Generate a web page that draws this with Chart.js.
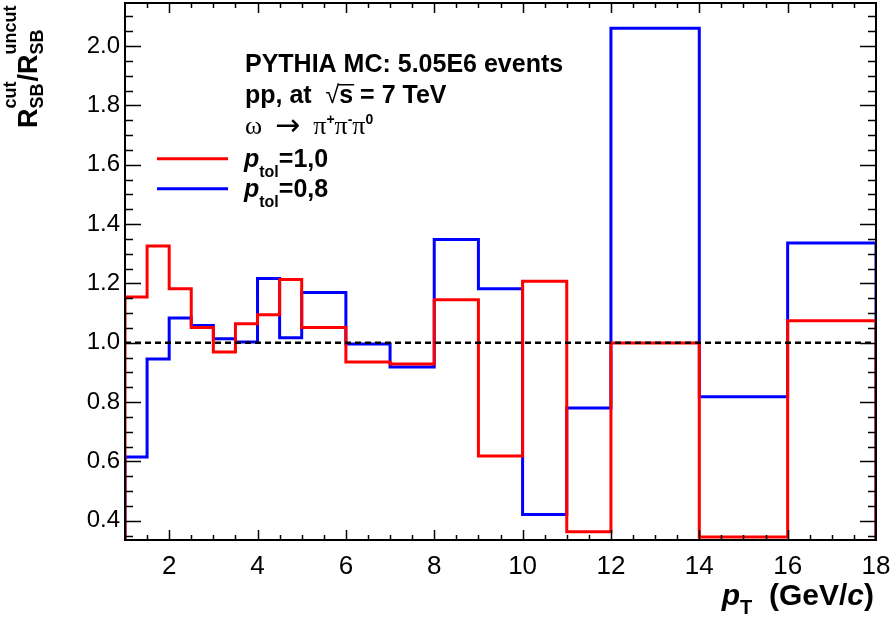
<!doctype html>
<html lang="en">
  <head>
    <meta charset="utf-8">
    <title>R_SB cut / uncut ratio vs pT</title>
    <style>
      * { margin: 0; padding: 0; }
      body { background: #fff; }
      #chart { display: block; }
    </style>
  </head>
  <body>
    <canvas id="chart" width="891" height="621"></canvas>
    <script src="https://cdn.jsdelivr.net/npm/chart.js/dist/chart.umd.min.js"></script>
    <script>
    // bin edges in pT (GeV/c), shared by both histograms
    const edges = [1, 1.5, 2, 2.5, 3, 3.5, 4, 4.5, 5, 6, 7, 8, 9, 10, 11, 12, 14, 16, 18];
    // p_tol = 1,0 (red)
    const ratioTol10 = [1.154, 1.326, 1.182, 1.051, 0.969, 1.064, 1.094, 1.213, 1.051,
                        0.935, 0.928, 1.145, 0.618, 1.207, 0.363, 0.999, 0.345, 1.074];
    // p_tol = 0,8 (blue)
    const ratioTol08 = [0.615, 0.945, 1.083, 1.058, 1.013, 1.002, 1.216, 1.017, 1.169,
                        0.996, 0.918, 1.348, 1.182, 0.421, 0.780, 2.060, 0.818, 1.336];
    // reference line at ratio = 1
    const refLineX = [1, 18];
    const refLineY = [1, 1];
    const xTickLabels = [2, 4, 6, 8, 10, 12, 14, 16, 18];
    const yTickLabels = [0.4, 0.6, 0.8, 1.0, 1.2, 1.4, 1.6, 1.8, 2.0];

    const SANS = '"Liberation Sans", Arial, Helvetica, sans-serif';
    const SERIF = '"Liberation Serif", "Times New Roman", serif';

    // histogram outline: go up at first edge, flat across each bin, down at the end
    function histPoints(ed, vals) {
      const pts = [{x: ed[0], y: 0}];
      vals.forEach((v, i) => {
        pts.push({x: ed[i], y: v}, {x: ed[i + 1], y: v});
      });
      pts.push({x: ed[ed.length - 1], y: 0});
      return pts;
    }

    // draw a run of text pieces (fonts / offsets); returns end x
    function richText(ctx, x, y, parts, dry) {
      for (const p of parts) {
        ctx.font = p.font;
        if (p.sup !== undefined) {
          if (!dry) {
            ctx.fillText(p.sup, x, y + p.supDy);
            ctx.fillText(p.sub, x, y + p.subDy);
          }
          x += Math.max(ctx.measureText(p.sup).width, ctx.measureText(p.sub).width);
        } else {
          if (!dry) ctx.fillText(p.t, x, y + (p.dy || 0));
          x += ctx.measureText(p.t).width;
        }
      }
      return x;
    }

    const frameAndTicks = {
      id: 'frameAndTicks',
      afterDatasetsDraw(chart) {
        const {ctx, chartArea: a, scales: {x, y}} = chart;
        ctx.save();
        ctx.strokeStyle = '#000';
        ctx.lineWidth = 1.5;
        ctx.beginPath();
        // x ticks, bottom and top, every 0.5, long every 2
        for (let k = 3; k < 36; k++) {
          const v = k / 2;
          const px = Math.round(x.getPixelForValue(v)) + 0.5;
          const len = (v % 2 === 0) ? 10 : 5;
          ctx.moveTo(px, a.bottom); ctx.lineTo(px, a.bottom - len);
          ctx.moveTo(px, a.top); ctx.lineTo(px, a.top + len);
        }
        // y ticks, left and right, every 0.05, long every 0.2
        for (let k = 7; k <= 42; k++) {
          const v = k * 0.05;
          const py = Math.round(y.getPixelForValue(v)) + 0.5;
          const len = (k % 4 === 0) ? 16 : 8;
          ctx.moveTo(a.left, py); ctx.lineTo(a.left + len, py);
          ctx.moveTo(a.right, py); ctx.lineTo(a.right - len, py);
        }
        ctx.stroke();
        ctx.lineWidth = 2;
        ctx.strokeRect(a.left, a.top, a.right - a.left, a.bottom - a.top);
        ctx.restore();
      },
      afterDraw(chart) {
        const ctx = chart.ctx;
        ctx.save();
        ctx.fillStyle = '#000';
        ctx.textBaseline = 'alphabetic';
        ctx.textAlign = 'left';

        // header lines
        const hf = 'bold 25px ' + SANS;
        ctx.font = hf;
        ctx.fillText('PYTHIA MC: 5.05E6 events', 245, 72);
        let ex = richText(ctx, 245, 103, [{t: 'pp, at  ', font: hf}]);
        ctx.font = '25px ' + SANS;
        ctx.fillText('\u221A', ex, 103);
        ex += ctx.measureText('\u221A').width;
        ctx.font = hf;
        const sw = ctx.measureText('s').width;
        ctx.fillText('s', ex, 103);
        ctx.fillRect(ex - 1, 84, sw + 2, 1.5);
        ctx.fillText(' = 7 TeV', ex + sw, 103);

        const supF = 'bold 14px ' + SANS;
        richText(ctx, 245, 134, [
          {t: '\u03C9  ', font: '26px ' + SERIF},
          {t: '\u2192', font: '30px "DejaVu Sans", sans-serif', dy: 1},
          {t: '  \u03C0', font: '26px ' + SERIF},
          {t: '+', font: supF, dy: -10},
          {t: '\u03C0', font: '26px ' + SERIF},
          {t: '-', font: supF, dy: -10},
          {t: '\u03C0', font: '26px ' + SERIF},
          {t: '0', font: supF, dy: -10}
        ]);

        // legend
        const legend = [['=1,0', '#ff0000', 166.7], ['=0,8', '#0000ff', 196.7]];
        legend.forEach(([txt, col, base]) => {
          ctx.strokeStyle = col;
          ctx.lineWidth = 3;
          ctx.beginPath();
          ctx.moveTo(157, base - 8); ctx.lineTo(228, base - 8);
          ctx.stroke();
          richText(ctx, 244, base, [
            {t: 'p', font: 'italic bold 25px ' + SANS},
            {t: 'tol', font: 'bold 16px ' + SANS, dy: 10},
            {t: txt, font: hf}
          ]);
        });

        // x axis title, right aligned
        const xt = [
          {t: 'p', font: 'italic bold 30px ' + SANS},
          {t: 'T', font: 'bold 20px ' + SANS, dy: 9},
          {t: '  (GeV/', font: 'bold 30px ' + SANS},
          {t: 'c', font: 'italic bold 30px ' + SANS},
          {t: ')', font: 'bold 30px ' + SANS}
        ];
        const xw = richText(ctx, 0, 0, xt, true);
        richText(ctx, 874 - xw, 605, xt);

        // y axis title, rotated
        ctx.translate(37, 128);
        ctx.rotate(-Math.PI / 2);
        const sf = 'bold 18px ' + SANS;
        richText(ctx, 0, 0, [
          {t: 'R', font: 'bold 27px ' + SANS},
          {sup: 'cut', sub: 'SB', font: sf, supDy: -21, subDy: 6},
          {t: '/', font: 'bold 27px ' + SANS},
          {t: 'R', font: 'bold 27px ' + SANS},
          {sup: 'uncut', sub: 'SB', font: sf, supDy: -21, subDy: 6}
        ]);
        ctx.restore();
      }
    };

    const data = {
      datasets: [
        {
          label: 'ref',
          data: refLineX.map((v, i) => ({x: v, y: refLineY[i]})),
          borderColor: '#000',
          borderWidth: 2.5,
          borderDash: [6, 4],
          pointRadius: 0,
          order: -1
        },
        {
          label: 'p_tol=1,0',
          data: histPoints(edges, ratioTol10),
          borderColor: '#ff0000',
          borderWidth: 3,
          pointRadius: 0,
          tension: 0,
          borderJoinStyle: 'miter',
          order: 0
        },
        {
          label: 'p_tol=0,8',
          data: histPoints(edges, ratioTol08),
          borderColor: '#0000ff',
          borderWidth: 3,
          pointRadius: 0,
          tension: 0,
          borderJoinStyle: 'miter',
          order: 1
        }
      ]
    };

    const config = {
      type: 'line',
      data,
      options: {
        responsive: false,
        animation: false,
        layout: { padding: { top: 3, right: 15, left: 0, bottom: 0 } },
        plugins: { legend: { display: false }, tooltip: { enabled: false } },
        scales: {
          x: {
            type: 'linear',
            min: 1,
            max: 18,
            afterFit(s) { s.height = 81; s.paddingLeft = 0; s.paddingRight = 0; },
            afterBuildTicks(s) { s.ticks = xTickLabels.map(v => ({value: v})); },
            grid: { display: false, drawTicks: false },
            border: { display: false },
            ticks: {
              font: { family: SANS, size: 26 },
              color: '#000',
              padding: 11,
              maxRotation: 0,
              autoSkip: false
            }
          },
          y: {
            type: 'linear',
            min: 0.335,
            max: 2.145,
            afterFit(s) { s.width = 125; s.paddingTop = 0; s.paddingBottom = 0; },
            afterBuildTicks(s) { s.ticks = yTickLabels.map(v => ({value: v})); },
            grid: { display: false, drawTicks: false },
            border: { display: false },
            ticks: {
              font: { family: SANS, size: 24 },
              color: '#000',
              padding: 5,
              callback: v => v.toFixed(1)
            }
          }
        }
      },
      plugins: [frameAndTicks]
    };

    const chart = new Chart(document.getElementById('chart'), config);
    </script>
  </body>
</html>
